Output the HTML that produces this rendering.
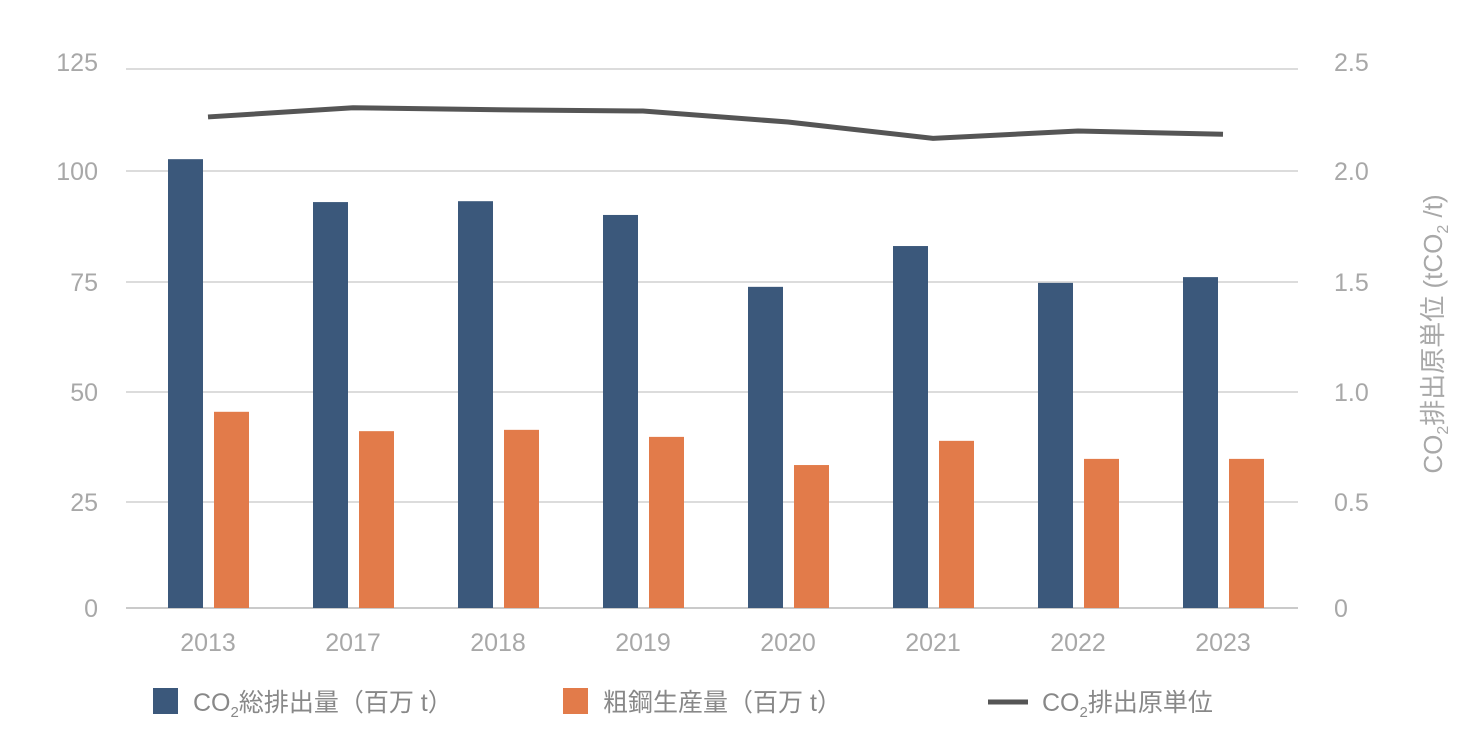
<!DOCTYPE html>
<html><head><meta charset="utf-8"><style>
body{margin:0;background:#fff;width:1460px;height:728px;overflow:hidden;font-family:"Liberation Sans","Noto Sans CJK JP",sans-serif}
svg text{font-family:"Liberation Sans","Noto Sans CJK JP",sans-serif}
</style></head><body>
<svg id="c" width="1460" height="728"></svg>
<script>
const years=["2013","2017","2018","2019","2020","2021","2022","2023"];
const co2Total=[102.9,93.0,93.2,90.1,73.9,83.1,74.8,76.1];
const steel=[45.5,41.1,41.4,39.8,33.4,38.9,34.8,34.8];
const intensity=[2.265,2.31,2.30,2.294,2.24,2.16,2.196,2.18];
const leftTicks=[0,25,50,75,100,125];
const rightTicks=["0","0.5","1.0","1.5","2.0","2.5"];
const NS="http://www.w3.org/2000/svg";
const svg=document.getElementById('c');
const tickPx=[608,502,392,282,171,69];
function yL(v){const i=Math.min(Math.floor(v/25),4);const f=(v-i*25)/25;return tickPx[i]+(tickPx[i+1]-tickPx[i])*f;}
function yR(v){return yL(v*50);}
function xC(i){return 208+i*145;}
function mk(t,a,txt){const e=document.createElementNS(NS,t);for(const k in a)e.setAttribute(k,a[k]);if(txt!=null)e.textContent=txt;svg.appendChild(e);return e;}
leftTicks.forEach((t,i)=>{
 const y=yL(t);
 const ly=i==5?y-7:y;
 const g=mk('line',{x1:126,x2:1298,y1:y,y2:y,stroke:i==0?'#aaa':'#c8c8c8','stroke-width':1.3});
 
 
 const l=mk('text',{x:98,y:ly+9,'text-anchor':'end','font-size':25,fill:'#a8a8a8'},String(t));
 
 
 const r=mk('text',{x:1334,y:ly+9,'font-size':25,fill:'#a8a8a8'},rightTicks[i]);
 
 
});
years.forEach((yr,i)=>{
 const c=xC(i);
 const b=mk('rect',{x:c-40,y:yL(co2Total[i]),width:35,height:608-yL(co2Total[i]),fill:'#3b587b'});
 
 
 const o=mk('rect',{x:c+6,y:yL(steel[i]),width:35,height:608-yL(steel[i]),fill:'#e27b4a'});
 
 
 const t=mk('text',{x:c,y:651,'text-anchor':'middle','font-size':25,fill:'#a8a8a8'},yr);
 
 
});
const pl=mk('polyline',{points:intensity.map((v,i)=>xC(i)+','+yR(v)).join(' '),fill:'none',stroke:'#555','stroke-width':5});


const at=mk('text',{transform:'translate(1442,334) rotate(-90)','text-anchor':'middle','font-size':26,fill:'#a8a8a8'});


at.innerHTML='CO<tspan font-size="16" dy="6">2</tspan><tspan dy="-6">排出原単位 (tCO</tspan><tspan font-size="16" dy="6">2</tspan><tspan dy="-6"> /t)</tspan>';
function legend(name,sw,x,html){
 let s;
 if(sw==='line'){s=mk('line',{x1:988,x2:1028,y1:702,y2:702,stroke:'#555','stroke-width':5});}
 else{s=mk('rect',{x:x,y:688,width:25,height:26,fill:sw});}
 
 
 const t=mk('text',{x:sw==='line'?1042:x+40,y:711,'font-size':25,fill:'#888'});
 
 
 t.innerHTML=html;
}
legend('legend-co2-total','#3b587b',153,'CO<tspan font-size="15" dy="6">2</tspan><tspan dy="-6">総排出量（百万 t）</tspan>');
legend('legend-steel','#e27b4a',563,'粗鋼生産量（百万 t）');
legend('legend-intensity','line',0,'CO<tspan font-size="15" dy="6">2</tspan><tspan dy="-6">排出原単位</tspan>');
</script>
</body></html>
